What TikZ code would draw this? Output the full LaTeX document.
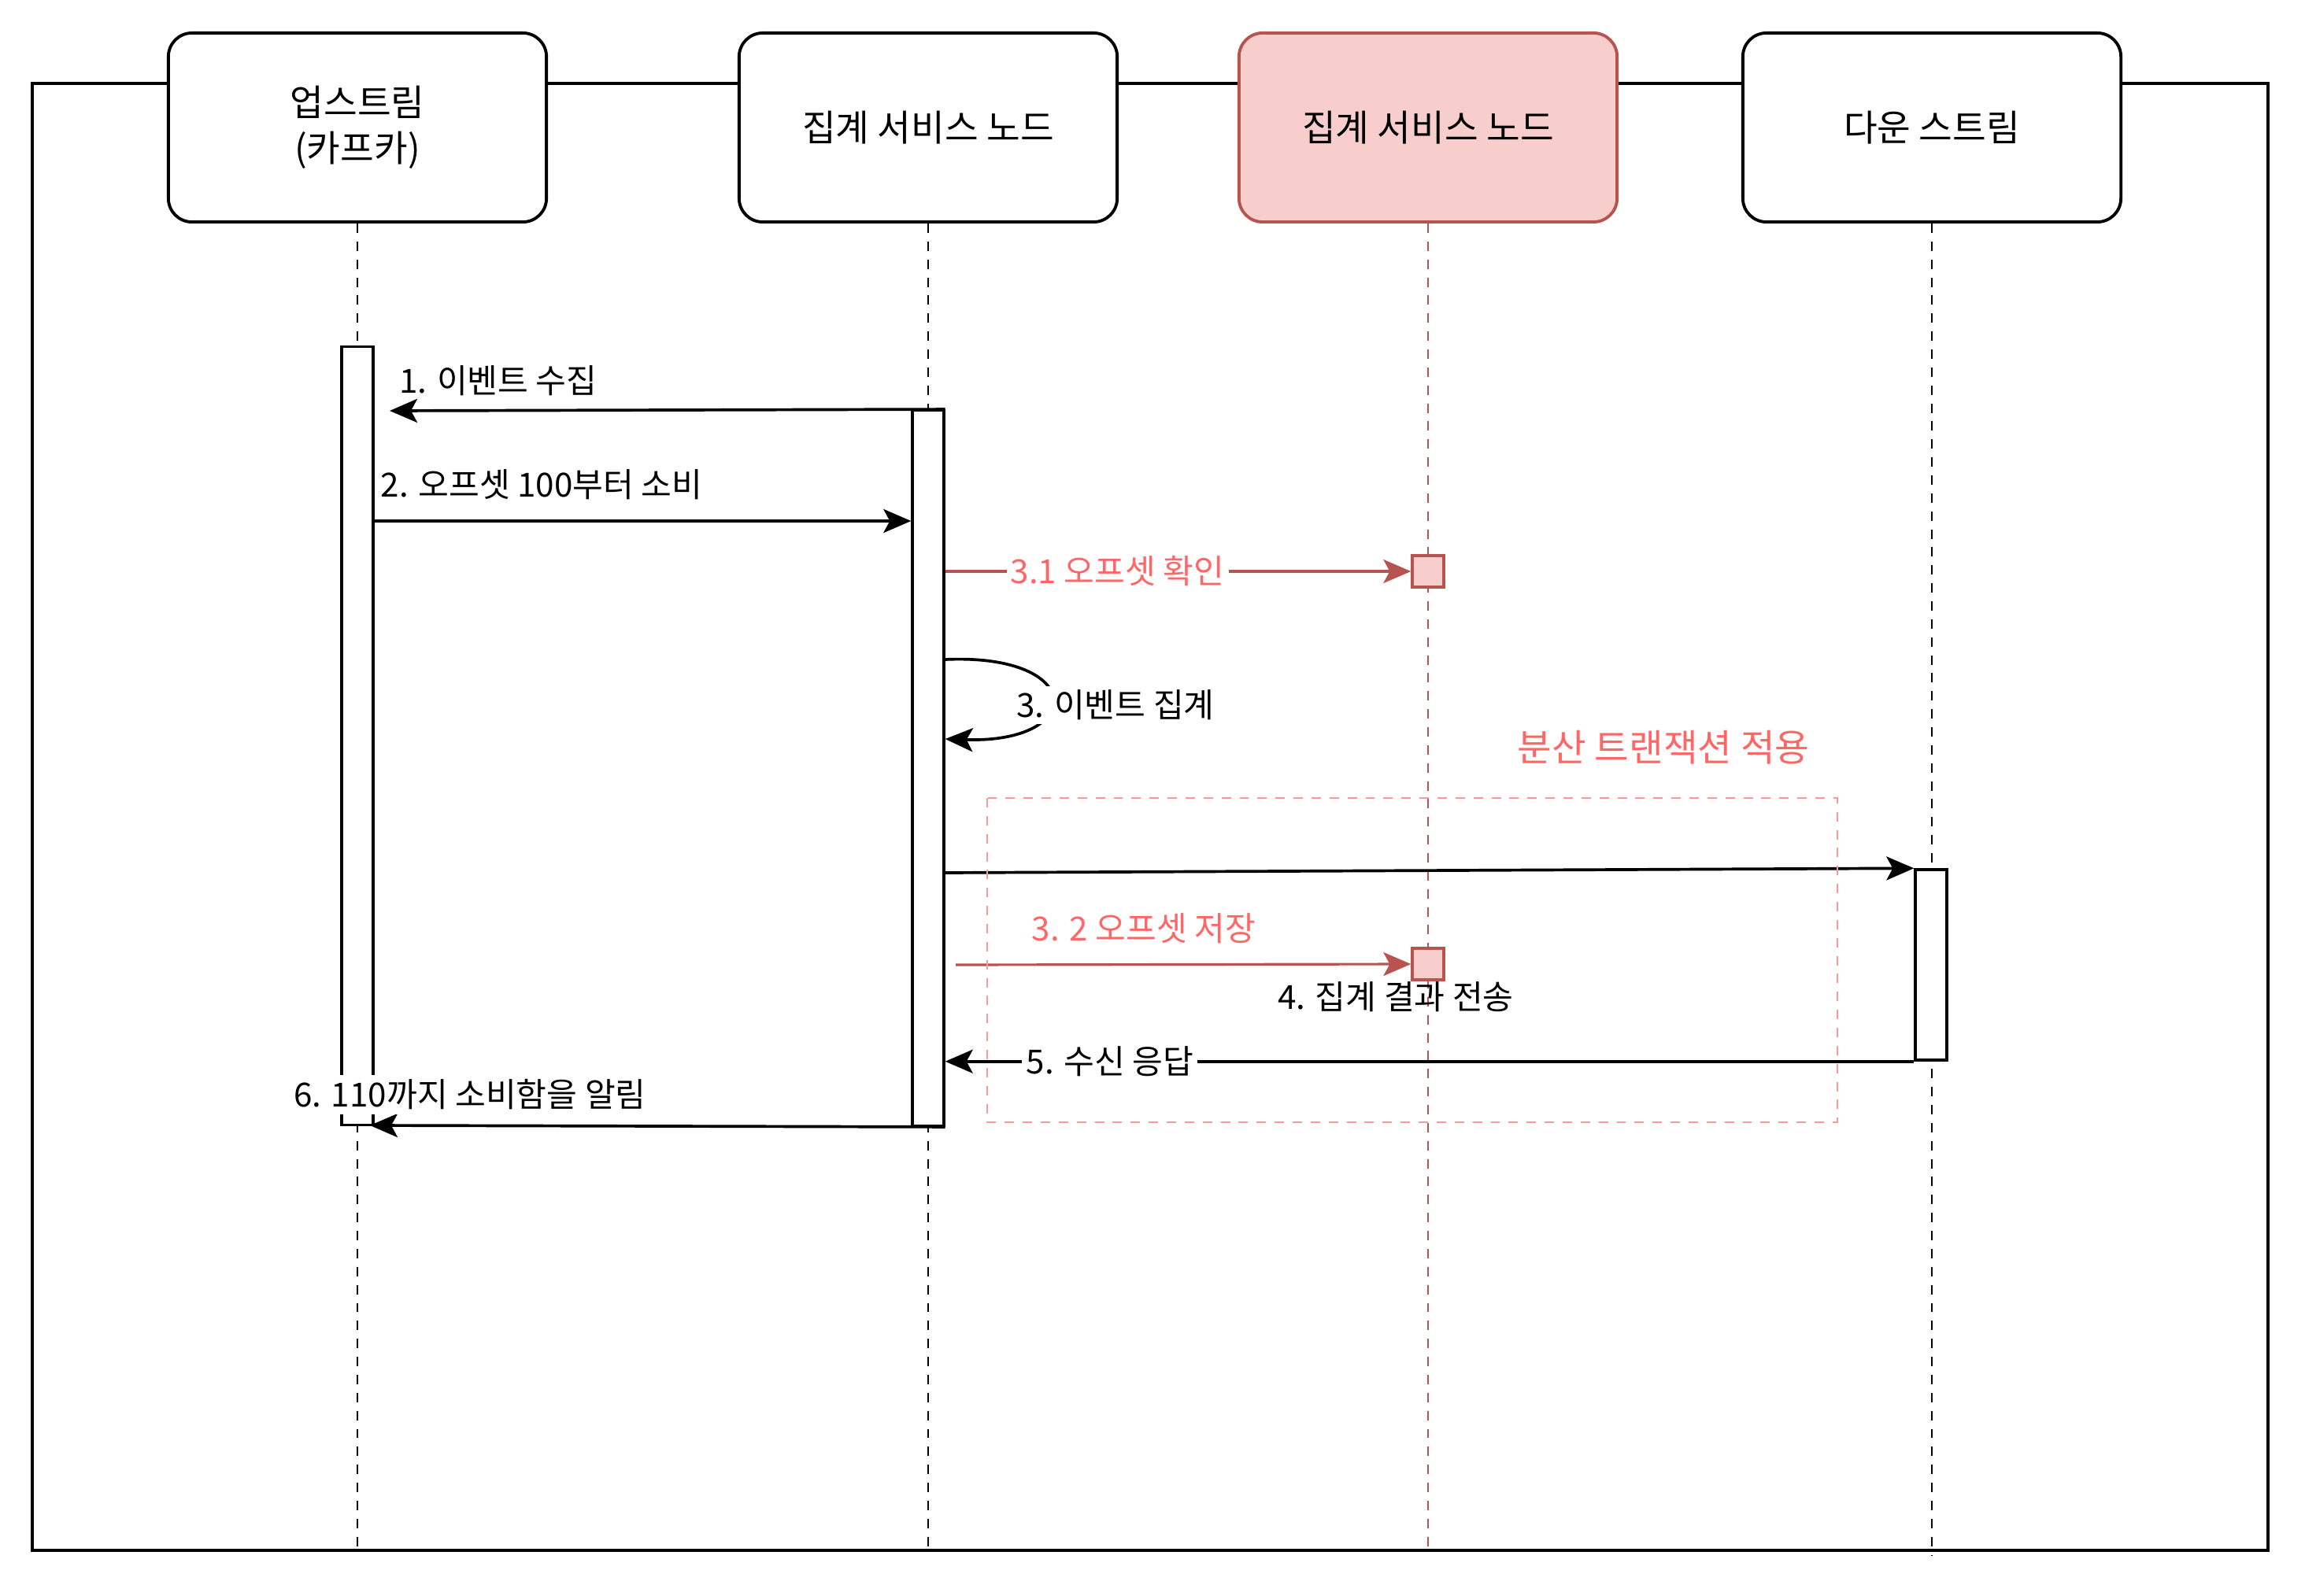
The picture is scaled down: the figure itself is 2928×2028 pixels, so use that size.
\documentclass[tikz,border=0pt]{standalone}
\usepackage{fontspec}
\setmainfont{Noto Sans CJK KR}
\usepackage{tikz}
\usetikzlibrary{arrows.meta}
\definecolor{dkred}{HTML}{B85450}
\definecolor{ltred}{HTML}{F8CECC}
\definecolor{txred}{HTML}{FF6666}
\definecolor{bxred}{HTML}{FF9999}

\begin{document}
\begin{tikzpicture}[x=0.01cm, y=-0.01cm,
  actor/.style={draw, line width=1.1pt, rounded corners=0.3cm, fill=white, minimum width=4.8cm, minimum height=2.4cm, align=center, inner sep=0pt, font=\fontsize{13.2}{16.5}\selectfont},
  bar/.style={draw, line width=0.95pt, fill=white, minimum width=0.4cm, inner sep=0pt},
  life/.style={line width=0.65pt, dash pattern=on 3.4pt off 3.1pt},
  msg/.style={line width=1.05pt, -{Stealth[length=0.35cm, width=0.3cm, inset=0.08cm]}},
  lbl/.style={font=\fontsize{12}{14}\selectfont, inner sep=1.5pt}]
\useasboundingbox (0,0) rectangle (2928,2028);

% Outer frame
\draw[line width=1pt] (41,106) rectangle (2881,1970);

% Participants
\node[actor] (up) at (454,162) {업스트림\\(카프카)};
\node[actor] (agg) at (1179,162) {집계 서비스 노드};
\node[actor, draw=dkred, fill=ltred] (agg2) at (1814,162) {집계 서비스 노드};
\node[actor] (down) at (2454,162) {다운 스트림};

% Lifelines
\draw[life] (up.south) -- (up.south |- 0,1972);
\draw[life] (agg.south) -- (agg.south |- 0,1972);
\draw[life, dkred] (agg2.south) -- (agg2.south |- 0,1972);
\draw[life] (down.south) -- (down.south |- 0,1976);

% Activation bars
\node[bar, minimum height=9.89cm] (act1) at (454,935) {};
\node[bar, minimum height=9.08cm] (act2) at (1179,976) {};
\node[bar, minimum height=2.42cm] (act4) at (2453,1226) {};
\node[bar, draw=dkred, fill=ltred, minimum width=0.4cm, minimum height=0.4cm] (chk) at (1814,726) {};
\node[bar, draw=dkred, fill=ltred, minimum width=0.4cm, minimum height=0.4cm] (sav) at (1814,1225) {};

% Free ends
\coordinate (tip1) at (495,522);
\coordinate (src32) at (1214,1226);
\coordinate (tip6) at (470,1430);

% Messages
\draw[msg] (act2.north east) -- (tip1);
\node[lbl] (l1) at (633,484) {1. 이벤트 수집};

\draw[msg] (act1.east |- 0,662) -- (act2.west |- 0,662);
\node[lbl] (l2) at (688,616) {2. 오프셋 100부터 소비};

\draw[msg, dkred, line width=0.9pt] (act2.east |- chk.west) -- (chk.west)
  node[lbl, pos=0.37, fill=white, text=txred] (l31) {3.1 오프셋 확인};

\draw[msg] (act2.east |- 0,838) .. controls (1380,830) and (1380,945) .. (act2.east |- 0,939);
\node[lbl, fill=white] (l3) at (1417,896) {3. 이벤트 집계};

\draw[msg] (act2.east |- 0,1109) -- (act4.north west);
\node[lbl] (l4) at (1773,1267) {4. 집계 결과 전송};

\draw[msg, dkred, line width=0.9pt] (src32) -- (sav.west);
\node[lbl, text=txred] (l32) at (1453,1180) {3. 2 오프셋 저장};

\draw[msg] (act4.south west) -- (act2.east |- act4.south west)
  node[lbl, pos=0.83, fill=white] (l5) {5. 수신 응답};

\draw[msg] (act2.south east) -- (tip6);
\node[lbl, fill=white] (l6) at (597,1391) {6. 110까지 소비함을 알림};

% Transaction scope
\draw[bxred, line width=0.8pt, dash pattern=on 3.4pt off 3.1pt] (1254,1014) rectangle (2334,1426);
\node[text=txred, font=\fontsize{13.5}{16}\selectfont] (tx) at (2113,950) {분산 트랜잭션 적용};
\end{tikzpicture}
\end{document}
